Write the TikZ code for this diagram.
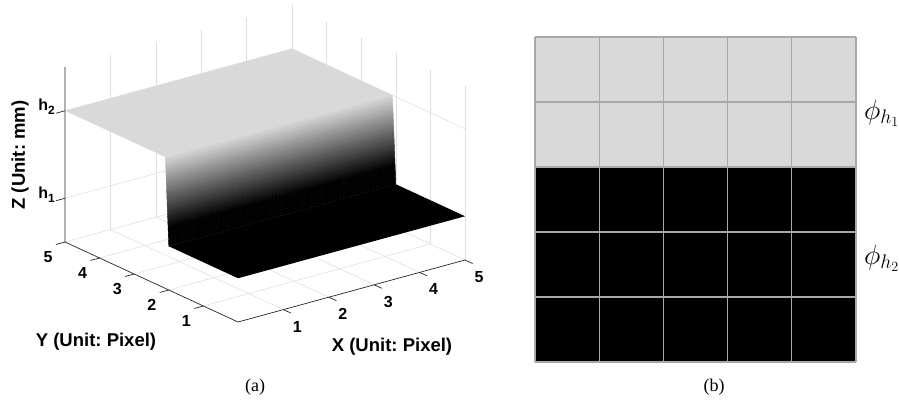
\documentclass[tikz,border=0pt]{standalone}
\usepackage{fix-cm}
\usepackage{fontspec}
\setmainfont{Liberation Serif}
\setsansfont{Liberation Sans}
\usetikzlibrary{positioning}
\frenchspacing

\definecolor{plateau}{gray}{0.85}
\definecolor{gridgray}{gray}{0.88}
\definecolor{axisgray}{gray}{0.15}
\definecolor{cellline}{gray}{0.66}
\newcommand{\hlab}[1]{h\raisebox{-4pt}{\fontsize{12}{12}\selectfont #1}}

\begin{document}
\begin{tikzpicture}[
    x=1pt, y=-1pt,
    gridline/.style={draw=gridgray, line width=0.6pt},
    axisline/.style={draw=axisgray, line width=0.7pt},
    ticklabel/.style={font=\sffamily\bfseries\fontsize{16}{18}\selectfont, inner sep=0pt},
    axislabel/.style={font=\sffamily\bfseries\fontsize{18.5}{20}\selectfont, inner sep=0pt},
    caption/.style={font=\fontsize{18}{20}\selectfont, inner sep=0pt},
    philabel/.style={font=\fontsize{28}{30}\selectfont, inner sep=0pt, anchor=west}
]
\useasboundingbox (0,0) rectangle (899,407);

% (a) surface plot
\begin{scope}[shift={(238,322)}, x={(45.4pt,12.4pt)}, y={(-34.6pt,16pt)}, z={(0pt,43.75pt)}]
\foreach \k in {1,...,5} {
    \draw[gridline] (\k,0,0) -- (\k,5,0);
    \draw[gridline] (0,\k,0) -- (5,\k,0);
    \draw[gridline] (\k,5,0) -- (\k,5,4);
}
\foreach \k in {0,...,4}
    \draw[gridline] (5,\k,0) -- (5,\k,4);
\foreach \h in {1,3}
    \draw[gridline] (0,5,\h) -- (5,5,\h) -- (5,0,\h);

\draw[axisline] (0,5,4) -- (0,5,0) -- (0,0,0) -- (5,0,0);
\foreach \k in {1,...,5} {
    \draw[axisline] (\k,0,0) -- (\k,-0.22,0);
    \draw[axisline] (0,\k,0) -- (-0.2,\k,0);
    \node[ticklabel, xshift=14pt, yshift=-17pt] (xt\k) at (\k,0,0) {\k};
    \node[ticklabel, xshift=-17pt, yshift=-15pt] (yt\k) at (0,\k,0) {\k};
}
\foreach \h in {1,3}
    \draw[axisline] (0,5,\h) -- (-0.2,5,\h);
\node[ticklabel, anchor=base east, xshift=-10pt] (zt1) at (0,5,1) {\hlab{1}};
\node[ticklabel, anchor=base east, xshift=-10pt] (zt2) at (0,5,3) {\hlab{2}};

% step between the two levels
\foreach \i in {0,...,29} {
    \pgfmathsetmacro\ya{2.1-0.1*\i/30}
    \pgfmathsetmacro\za{3-2*\i/30}
    \pgfmathsetmacro\yb{2.1-0.1*(\i+1)/30}
    \pgfmathsetmacro\zb{3-2*(\i+1)/30}
    \pgfmathtruncatemacro\lev{max(0,100-100*(\i+0.5)/30/0.8)}
    \filldraw[fill=plateau!\lev!black, draw=plateau!\lev!black, line width=0.4pt]
        (0,\ya,\za) -- (5,\ya,\za) -- (5,\yb,\zb) -- (0,\yb,\zb) -- cycle;
}
\fill[plateau] (0,2.1,3) -- (5,2.1,3) -- (5,5,3) -- (0,5,3) -- cycle;
\fill[black] (0,0,1) -- (5,0,1) -- (5,2,1) -- (0,2,1) -- cycle;
\end{scope}

\node[axislabel, rotate=90] (zlabel) at (20,155) {Z (Unit: mm)};
\node[axislabel] (ylabel) at (96,342) {Y (Unit: Pixel)};
\node[axislabel] (xlabel) at (392,347) {X (Unit: Pixel)};
\node[caption] (capa) at (255,387) {(a)};

% (b) label map
\begin{scope}[shift={(535,37)}, x=64.2pt, y=-65pt]
\fill[plateau] (0,0) rectangle (5,2);
\fill[black] (0,2) rectangle (5,5);
\foreach \k in {0,...,5} {
    \draw[draw=cellline, line width=1.2pt] (\k,0) -- (\k,5);
    \draw[draw=cellline, line width=1.2pt] (0,\k) -- (5,\k);
}
\end{scope}
\node[philabel] (phi1) at (864,113) {$\phi_{h_1}$};
\node[philabel] (phi2) at (864,258) {$\phi_{h_2}$};
\node[caption] (capb) at (714,387) {(b)};
\end{tikzpicture}
\end{document}
